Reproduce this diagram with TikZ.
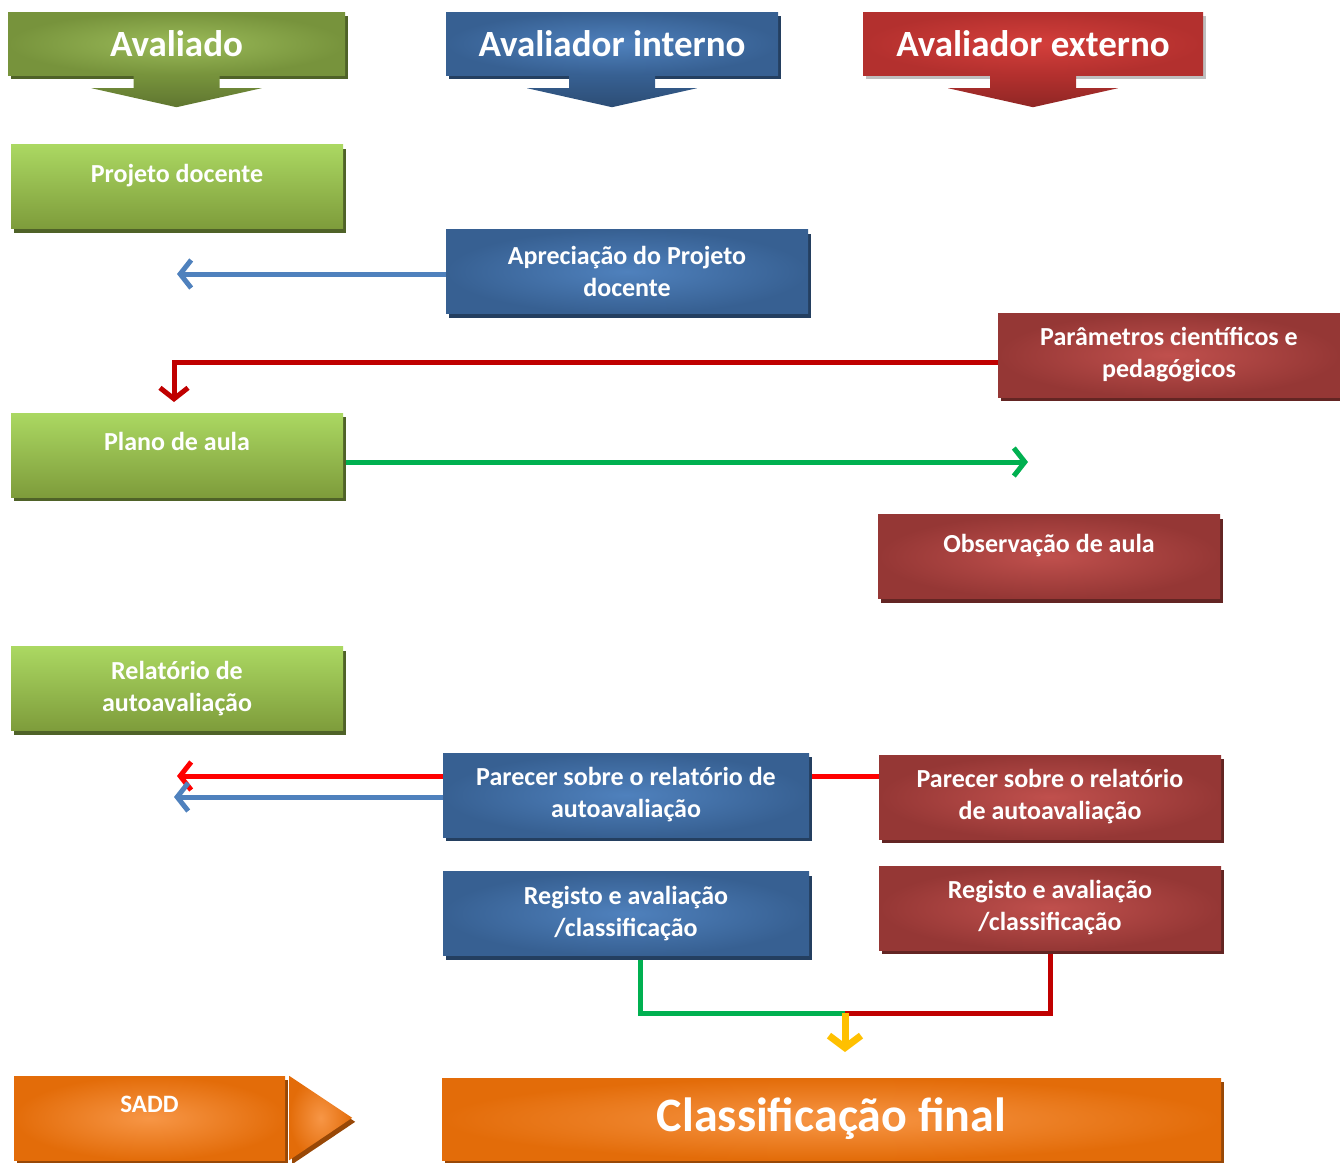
\documentclass[tikz,border=0pt]{standalone}
\usepackage{fontspec}
\setmainfont{Carlito}
\usetikzlibrary{arrows.meta,positioning,shadows,backgrounds}
\definecolor{grhd}{HTML}{77933C}
\definecolor{grhdin}{HTML}{9BBB59}
\definecolor{grtop}{HTML}{ABD862}
\definecolor{grbot}{HTML}{7E9C3B}
\definecolor{grdark}{HTML}{4F6228}
\definecolor{blout}{HTML}{376092}
\definecolor{blin}{HTML}{4F81BD}
\definecolor{bldark}{HTML}{243F60}
\definecolor{rdout}{HTML}{953735}
\definecolor{rdin}{HTML}{C0504D}
\definecolor{rddark}{HTML}{632523}
\definecolor{rdhd}{HTML}{B3302E}
\definecolor{rdhdin}{HTML}{D43F3B}
\definecolor{orout}{HTML}{E36C09}
\definecolor{orin}{HTML}{F79646}
\definecolor{ordark}{HTML}{984807}
\definecolor{lnblue}{HTML}{4F81BD}
\definecolor{lnred}{HTML}{C00000}
\definecolor{lnbright}{HTML}{FF0000}
\definecolor{lngreen}{HTML}{00B050}
\definecolor{lnyellow}{HTML}{FFC000}
\tikzset{
  box/.style={rectangle,text=white,font=\bfseries\fontsize{26}{32}\selectfont,align=center,minimum height=84pt,inner sep=2pt},
  sh/.style={general shadow={fill=#1,shadow xshift=3pt,shadow yshift=-4pt}},
  gbox/.style={box,minimum width=332pt,top color=grtop,bottom color=grbot,sh=grdark},
  bbox/.style={box,minimum width=366pt,inner color=blin,outer color=blout,sh=bldark},
  rbox/.style={box,minimum width=342pt,inner color=rdin,outer color=rdout,sh=rddark},
  obox/.style={box,inner color=orin,outer color=orout,sh=ordark},
  one/.style={text depth=27pt},
  hdr/.style={rectangle,text=white,font=\bfseries\fontsize{37}{42}\selectfont,minimum height=63pt},
  link/.style={line width=5pt},
  arr/.style={-{Straight Barb[length=11pt,width=28pt]}},
}
\begin{document}
\begin{tikzpicture}[x=1pt,y=-1pt]
\useasboundingbox (0,0) rectangle (1340,1162);
% column headers
\node[hdr,minimum width=337pt,inner color=grhdin,outer color=grhd,sh=grdark] (hav) at (176.5,43.5) {Avaliado};
\node[hdr,minimum width=332pt,inner color=blin,outer color=blout,sh=bldark] (hint) at (612,43.5) {Avaliador interno};
\node[hdr,minimum width=340pt,inner color=rdhdin,outer color=rdhd,sh=black!25] (hext) at (1033,43.5) {Avaliador externo};
\foreach \h/\c in {hav/grhd,hint/blout,hext/rdhd}
  \path[top color=\c,bottom color=\c!80!black] ([xshift=-43pt]\h.south) -- ++(0,13) -- ++(-42,0)
    -- ++(85,19) -- ++(85,-19) -- ++(-42,0) -- ++(0,-13) -- cycle;
% boxes
\node[gbox,one] (proj) at (177,186.5) {Projeto docente};
\node[bbox,minimum width=362pt] (aprec) at (627,271.5) {Apreciação do Projeto\\docente};
\node[rbox] (param) at (1169,355) {Parâmetros científicos e\\pedagógicos};
\node[gbox,one] (plano) at (177,455) {Plano de aula};
\node[rbox,one] (obs) at (1049,556.5) {Observação de aula};
\node[gbox] (relat) at (177,688.5) {Relatório de\\autoavaliação};
\node[bbox] (parb) at (626,795) {Parecer sobre o relatório de\\autoavaliação};
\node[rbox] (parr) at (1050,797) {Parecer sobre o relatório\\de autoavaliação};
\node[bbox] (regb) at (626,913.5) {Registo e avaliação\\/classificação};
\node[rbox] (regr) at (1050,908) {Registo e avaliação\\/classificação};
\node[obox,one,minimum width=271pt,font=\bfseries\fontsize{25}{30}\selectfont] (sadd) at (149.5,1118) {SADD};
\node[obox,minimum width=779pt,minimum height=82pt,font=\bfseries\fontsize{48}{52}\selectfont] (final) at (831.5,1119) {Classificação final};
\path[inner color=orin,outer color=orout,sh=ordark] ([xshift=4pt]sadd.north east) -- ++(63,42) -- ([xshift=4pt]sadd.south east) -- cycle;
% connector ends
\coordinate (a1) at (177,274);
\coordinate (r1) at (174,402);
\coordinate (g1) at (1028,462);
\coordinate (p1) at (177,776);
\coordinate (p2) at (174,797);
\coordinate (m) at (845,1013);
\coordinate (m2) at (845,1052);
\begin{scope}[on background layer]
\draw[link,arr,lnblue] ([yshift=-2.5pt]aprec.west) -- (a1);
\draw[link,arr,lnred] ([yshift=-7pt]param.west) -| (r1);
\draw[link,arr,lngreen] ([yshift=-7pt]plano.east) -- (g1);
\draw[link,arr,lnbright] ([yshift=21pt]parr.west) -- (p1);
\draw[link,arr,lnblue] ([yshift=-2pt]parb.west) -- (p2);
\draw[link,lngreen] ([xshift=14pt]regb.south) |- (m);
\draw[link,lnred] (regr.south) |- (m);
\end{scope}
\draw[line width=7pt,-{Straight Barb[length=12pt,width=32pt]},lnyellow] (m) -- (m2);
\end{tikzpicture}
\end{document}
